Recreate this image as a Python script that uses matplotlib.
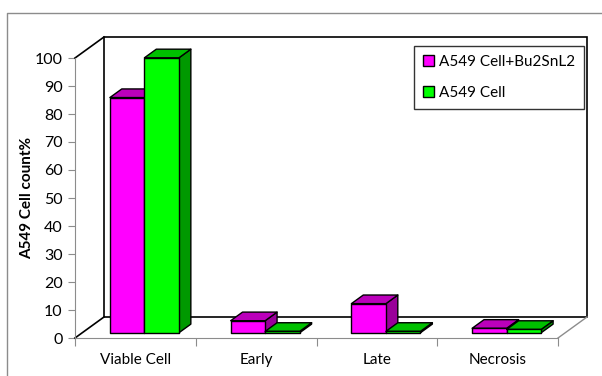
import numpy as np
import matplotlib.pyplot as plt
from matplotlib.patches import Polygon, Patch
from matplotlib.lines import Line2D

plt.rcParams['font.family'] = ['Lato', 'DejaVu Sans']

# Data
categories = ['Viable Cell', 'Early', 'Late', 'Necrosis']
treated = [84.0, 4.3, 10.4, 1.6]      # A549 Cell+Bu2SnL2
control = [98.2, 0.5, 0.5, 1.2]       # A549 Cell
series_names = ['A549 Cell+Bu2SnL2', 'A549 Cell']
yticks = list(range(0, 101, 10))

# Colours: front, top, side
magenta = ('#FF00FF', '#BB00BB', '#990099')
green = ('#00FF00', '#00C000', '#009900')

# Oblique depth of the plot box (data units)
DX, DY = 0.24, 7.5
bar_w = 0.286
f0, f1 = 0.25, 0.66

fig = plt.figure(figsize=(6.02, 3.76), dpi=100)
ax = fig.add_axes([75/602, 38/376, 483/602, 280/376])
ax.set_xlim(0, len(categories))
ax.set_ylim(0, 100)
ax.patch.set_visible(False)

# chart area border (left and top edges)
fig.add_artist(Line2D([7/602, 7/602, 1.0], [0.0, 1 - 13/376, 1 - 13/376],
                      transform=fig.transFigure, color='#8c8c8c', lw=1))

n = len(categories)
# back wall
ax.add_patch(Polygon([(DX, DY), (n + DX, DY), (n + DX, 100 + DY), (DX, 100 + DY)],
                     closed=True, fc='white', ec='black', lw=1.2, clip_on=False, zorder=1))
# left wall top/bottom edges
ax.plot([0, DX], [100, 100 + DY], color='black', lw=1.2, clip_on=False, zorder=2)
ax.plot([0, DX], [0, DY], color='black', lw=1.2, clip_on=False, zorder=2)
# floor right edge
ax.plot([n, n + DX], [0, DY], color='#8c8c8c', lw=1, clip_on=False, zorder=2)


def box(x0, w, v, cols):
    ax_, ay = f0 * DX, f0 * DY
    bx, by = f1 * DX, f1 * DY
    front = [(x0 + ax_, ay), (x0 + w + ax_, ay), (x0 + w + ax_, v + ay), (x0 + ax_, v + ay)]
    top = [(x0 + ax_, v + ay), (x0 + w + ax_, v + ay), (x0 + w + bx, v + by), (x0 + bx, v + by)]
    side = [(x0 + w + ax_, ay), (x0 + w + bx, by), (x0 + w + bx, v + by), (x0 + w + ax_, v + ay)]
    for pts, c in ((side, cols[2]), (top, cols[1]), (front, cols[0])):
        ax.add_patch(Polygon(pts, closed=True, fc=c, ec='black', lw=1,
                             joinstyle='round', clip_on=False, zorder=3))


for i in range(n):
    c = i + 0.515
    box(c - bar_w, bar_w, treated[i], magenta)
    box(c, bar_w, control[i], green)

# axes
for s in ('top', 'right'):
    ax.spines[s].set_visible(False)
for s in ('left', 'bottom'):
    ax.spines[s].set_color('#8c8c8c')
    ax.spines[s].set_zorder(2)
ax.set_yticks(yticks)
ax.tick_params(axis='y', length=5, color='#8c8c8c', labelsize=11.5, pad=4)
ax.set_xticks(range(n + 1))
ax.set_xticklabels([])
ax.tick_params(axis='x', length=6, color='#8c8c8c')
for i, name in enumerate(categories):
    ax.text(i + 0.5, -5.3, name, ha='center', va='top', fontsize=11)
ax.set_ylabel('A549 Cell count%', fontsize=11, fontweight='bold', labelpad=0)

handles = [Patch(fc=magenta[0], ec='black', lw=1), Patch(fc=green[0], ec='black', lw=1)]
leg = fig.legend(handles, series_names, loc='upper right',
                 bbox_to_anchor=(584/602, 1 - 46/376), fontsize=11,
                 frameon=True, fancybox=False, edgecolor='black',
                 handlelength=0.7, handleheight=0.7, handletextpad=0.3,
                 labelspacing=1.1, borderpad=0.6, borderaxespad=0)
leg.get_frame().set_linewidth(1)
leg.set_zorder(5)

fig.savefig('out.png', dpi=100)
